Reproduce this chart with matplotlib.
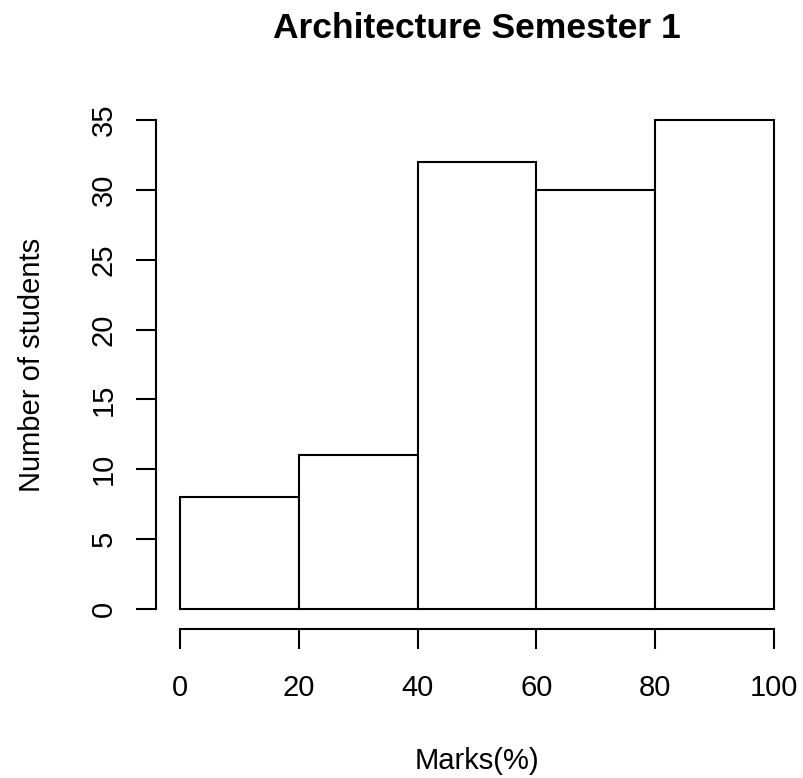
import matplotlib
matplotlib.use("Agg")
import matplotlib.pyplot as plt
from matplotlib.transforms import blended_transform_factory

plt.rcParams['font.family'] = ['Liberation Sans', 'DejaVu Sans']

bin_edges = [0, 20, 40, 60, 80, 100]
counts = [8, 11, 32, 30, 35]
x_ticks = [0, 20, 40, 60, 80, 100]
y_ticks = [0, 5, 10, 15, 20, 25, 30, 35]
title = "Architecture Semester 1"
xlabel = "Marks(%)"
ylabel = "Number of students"

W, H = 804, 778
fig = plt.figure(figsize=(W/100, H/100), dpi=100)
ax = fig.add_axes([156/W, (H-628.6)/H, 642/W, 528.2/H])

lefts = bin_edges[:-1]
widths = [b - a for a, b in zip(bin_edges[:-1], bin_edges[1:])]
ax.bar(lefts, counts, width=widths, align='edge', facecolor='white',
       edgecolor='black', linewidth=1.5)

ax.set_xlim(-4, 104)
ax.set_ylim(-1.4, 36.4)
for s in ['top', 'right']:
    ax.spines[s].set_visible(False)
ax.spines['left'].set_bounds(0, 35)
ax.spines['bottom'].set_bounds(0, 100)
ax.spines['left'].set_linewidth(1.5)
ax.spines['bottom'].set_linewidth(1.5)

ax.set_xticks(x_ticks)
ax.set_yticks(y_ticks)
ax.set_xticklabels([str(v) for v in x_ticks])
ax.set_yticklabels([str(v) for v in y_ticks], rotation=90,
                   rotation_mode='anchor', ha='center', va='baseline')
ax.tick_params(axis='both', length=14.4, width=1.5, labelsize=21)
ax.tick_params(axis='x', pad=18.5)
ax.tick_params(axis='y', pad=17.3)

ax.set_xlabel(xlabel, fontsize=21, va='baseline')
ax.xaxis.set_label_coords(0.5, (H-769)/H,
                          transform=blended_transform_factory(ax.transAxes, fig.transFigure))
ax.set_ylabel(ylabel, fontsize=21, rotation=90, rotation_mode='anchor',
              ha='center', va='baseline')
ax.yaxis.set_label_coords(40/W, 0.5,
                          transform=blended_transform_factory(fig.transFigure, ax.transAxes))
ax.set_title(title, fontsize=25.5, fontweight='bold', pad=45)

fig.savefig("out.png", dpi=100)
